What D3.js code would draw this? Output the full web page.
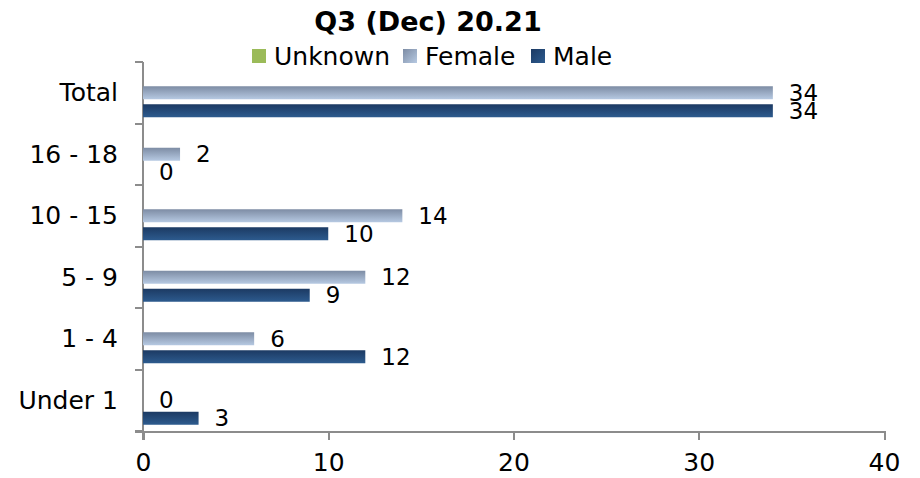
<!DOCTYPE html>
<meta charset="utf-8">
<style>
body { margin: 0; background: #fff; }
svg text { font-family: "DejaVu Sans", sans-serif; fill: #000; }
.axis path, .axis line { fill: none; stroke: #8c8c8c; stroke-width: 2px; shape-rendering: crispEdges; }
</style>
<body>
<svg width="920" height="478"></svg>
<script src="https://d3js.org/d3.v7.min.js"></script>
<script>
var categories = ["Total", "16 - 18", "10 - 15", "5 - 9", "1 - 4", "Under 1"];
var seriesNames = ["Unknown", "Female", "Male"];
var unknown = [null, null, null, null, null, null];
var female = [34, 2, 14, 12, 6, 0];
var male = [34, 0, 10, 9, 12, 3];
var xTicks = [0, 10, 20, 30, 40];

var values = { Unknown: unknown, Female: female, Male: male };

var svg = d3.select("svg");

var defs = svg.append("defs");
function grad(id, c1, c2, x2, y2) {
  var g = defs.append("linearGradient").attr("id", id)
      .attr("x1", 0).attr("y1", 0).attr("x2", x2).attr("y2", y2);
  g.append("stop").attr("offset", "0%").attr("stop-color", c1);
  g.append("stop").attr("offset", "100%").attr("stop-color", c2);
}
grad("gUnknown", "#9bbb59", "#9bbb59", 0, 1);
grad("gFemale", "#7d8ca4", "#b6c9e2", 0, 1);
grad("gMale", "#1c3a63", "#2d5b8e", 0, 1);
grad("lFemale", "#7d8ca4", "#b6c9e2", 1, 1);
grad("lMale", "#1c3a63", "#2d5b8e", 1, 1);

var x = d3.scaleLinear().domain([0, 40]).range([143, 884]);
var y = d3.scaleBand().domain(categories).range([62, 431]);
var y1 = d3.scaleBand().domain(seriesNames).range([0, y.bandwidth()])
    .paddingInner(5 / 18).paddingOuter(0.347);

// title
svg.append("text")
    .attr("x", 428).attr("y", 21)
    .attr("text-anchor", "middle").attr("dominant-baseline", "central")
    .style("font-size", "27px").style("font-weight", "bold")
    .text("Q3 (Dec) 20.21");

// legend
var legendX = [252, 403, 531];
seriesNames.forEach(function(s, i) {
  svg.append("rect")
      .attr("x", legendX[i]).attr("y", 49).attr("width", 14).attr("height", 14)
      .attr("fill", s === "Unknown" ? "#9bbb59" : "url(#l" + s + ")");
  svg.append("text")
      .attr("x", legendX[i] + 22).attr("y", 56)
      .attr("dominant-baseline", "central")
      .style("font-size", "25px")
      .text(s);
});

// axes
var xAxis = svg.append("g").attr("class", "axis")
    .attr("transform", "translate(0,431)")
    .call(d3.axisBottom(x).tickValues(xTicks).tickSize(9).tickSizeOuter(0).tickPadding(13));
xAxis.select(".domain").attr("d", "M135,0.5H884");
xAxis.selectAll("text").style("font-size", "25px").attr("fill", "#000");

var yAxis = svg.append("g").attr("class", "axis")
    .attr("transform", "translate(143,0)");
yAxis.append("line").attr("x1", 0).attr("x2", 0).attr("y1", 62).attr("y2", 440);
var edges = categories.map(function(c) { return y(c); }).concat([431]);
yAxis.selectAll(".tk").data(edges).enter().append("line")
    .attr("class", "tk")
    .attr("x1", -8).attr("x2", 0)
    .attr("y1", function(d) { return d; }).attr("y2", function(d) { return d; });

svg.selectAll(".cat").data(categories).enter().append("text")
    .attr("class", "cat")
    .attr("x", 118)
    .attr("y", function(d) { return y(d) + y.bandwidth() / 2; })
    .attr("text-anchor", "end").attr("dominant-baseline", "central")
    .style("font-size", "25px")
    .text(function(d) { return d; });

// bars
seriesNames.forEach(function(s) {
  var data = categories.map(function(c, i) { return { cat: c, v: values[s][i] }; })
      .filter(function(d) { return d.v !== null; });
  svg.selectAll(".bar-" + s).data(data).enter().append("rect")
      .attr("class", "bar-" + s)
      .attr("x", x(0))
      .attr("y", function(d) { return y(d.cat) + y1(s); })
      .attr("width", function(d) { return x(d.v) - x(0); })
      .attr("height", y1.bandwidth())
      .attr("fill", "url(#g" + s + ")");
  svg.selectAll(".lbl-" + s).data(data).enter().append("text")
      .attr("class", "lbl-" + s)
      .attr("x", function(d) { return x(d.v) + 16; })
      .attr("y", function(d) { return y(d.cat) + y1(s) + y1.bandwidth() / 2; })
      .attr("dominant-baseline", "central")
      .style("font-size", "23px")
      .text(function(d) { return d.v; });
});
</script>
</body>
